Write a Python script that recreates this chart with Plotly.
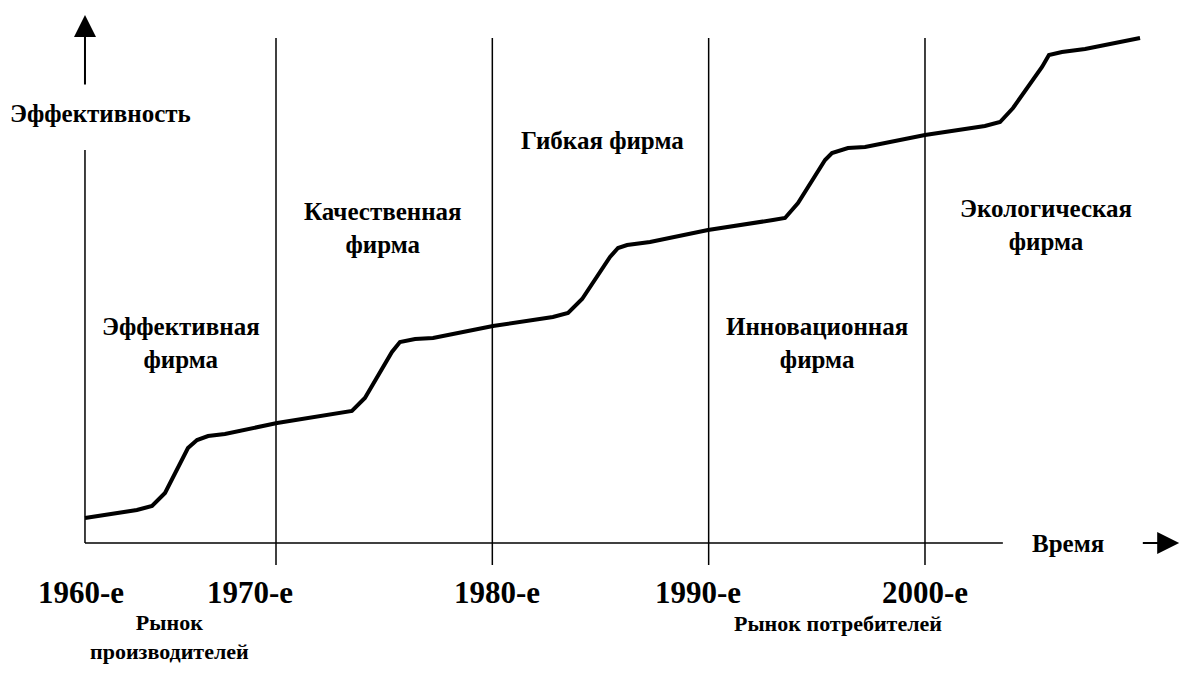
import plotly.graph_objects as go

# ---- data (time in years, efficiency in arbitrary units) ----
curve_year = [1961.17, 1963.57, 1964.27, 1964.87, 1965.93, 1966.35, 1966.86, 1967.64,
              1970.05, 1972.63, 1973.51, 1974.11, 1975.36, 1975.73, 1976.43, 1977.26,
              1980.03, 1982.80, 1983.50, 1984.15, 1985.44, 1985.81, 1986.23, 1987.29,
              1989.97, 1992.97, 1993.53, 1994.13, 1995.38, 1995.70, 1996.44, 1997.23,
              2000.00, 2002.77, 2003.47, 2004.07, 2005.41, 2005.73, 2006.33, 2007.40,
              2009.94]
curve_eff = [5.0, 6.6, 7.4, 10.0, 19.0, 20.6, 21.4, 21.8,
             24.0, 25.8, 26.4, 29.0, 38.2, 40.2, 40.8, 41.0,
             43.4, 45.2, 46.0, 48.8, 57.2, 59.0, 59.6, 60.2,
             62.6, 64.6, 65.0, 68.0, 76.6, 78.0, 79.0, 79.2,
             81.6, 83.4, 84.2, 87.0, 95.2, 97.6, 98.2, 98.8,
             101.0]

decade_bounds = [1970, 1980, 1990, 2000]
decade_labels = ["1960-е", "1970-е", "1980-е", "1990-е", "2000-е"]
decade_label_x = [1961.0, 1968.8, 1980.2, 1989.5, 2000.0]

firm_labels = ["Эффективная<br>фирма", "Качественная<br>фирма", "Гибкая фирма",
               "Инновационная<br>фирма", "Экологическая<br>фирма"]
firm_label_x = [1965.6, 1974.95, 1985.1, 1995.0, 2005.6]
firm_label_y = [40.0, 63.0, 80.6, 40.0, 63.6]

market_labels = ["Рынок<br>производителей", "Рынок потребителей"]
market_label_x = [1965.1, 1996.0]
market_label_y = [-18.8, -16.0]

y_title = "Эффективность"
x_title = "Время"

# ---- geometry / style ----
X0 = 1961.17          # position of the vertical (efficiency) axis
XMIN, XMAX = 1957.242, 2011.834
YMIN, YMAX = -28.6, 108.6
FONT = "Liberation Serif"

fig = go.Figure()
fig.add_trace(go.Scatter(x=curve_year, y=curve_eff, mode="lines",
                         line=dict(color="black", width=4), hoverinfo="skip",
                         showlegend=False))

shapes = []
for b in decade_bounds:
    shapes.append(dict(type="line", xref="x", yref="y", x0=b, x1=b, y0=-4.4, y1=101.0,
                       line=dict(color="black", width=1.5)))
# vertical axis (lower part, below the title)
shapes.append(dict(type="line", xref="x", yref="y", x0=X0, x1=X0, y0=0, y1=78.6,
                   line=dict(color="black", width=1.5)))
# horizontal axis (left part, up to the title)
shapes.append(dict(type="line", xref="x", yref="y", x0=X0, x1=2003.6, y0=0, y1=0,
                   line=dict(color="black", width=1.5)))

annotations = []
# arrows
annotations.append(dict(x=X0, y=105.6, ax=X0, ay=91.4, xref="x", yref="y",
                        axref="x", ayref="y", showarrow=True, arrowhead=2,
                        arrowsize=2.2, arrowwidth=2, arrowcolor="black", text=""))
annotations.append(dict(x=2011.75, y=0, ax=2010.0, ay=0, xref="x", yref="y",
                        axref="x", ayref="y", showarrow=True, arrowhead=2,
                        arrowsize=2.2, arrowwidth=2, arrowcolor="black", text=""))

def txt(x, y, s, size):
    return dict(x=x, y=y, xref="x", yref="y", text="<b>" + s + "</b>", showarrow=False,
                xanchor="center", yanchor="middle",
                font=dict(family=FONT, size=size, color="black"))

annotations.append(txt(1961.91, 86.0, y_title, 25))
annotations.append(txt(2006.6, 0.0, x_title, 25))
for s, x, y in zip(firm_labels, firm_label_x, firm_label_y):
    annotations.append(txt(x, y, s, 25))
for s, x in zip(decade_labels, decade_label_x):
    annotations.append(txt(x, -9.8, s, 31))
for s, x, y in zip(market_labels, market_label_x, market_label_y):
    annotations.append(txt(x, y, s, 22))

fig.update_layout(
    width=1181, height=686,
    margin=dict(l=0, r=0, t=0, b=0),
    paper_bgcolor="white", plot_bgcolor="white",
    xaxis=dict(range=[XMIN, XMAX], visible=False, fixedrange=True),
    yaxis=dict(range=[YMIN, YMAX], visible=False, fixedrange=True),
    shapes=shapes, annotations=annotations,
    showlegend=False,
)

fig.write_html("out.html", config={"displayModeBar": False},
               post_script="document.body.style.margin='0';")
